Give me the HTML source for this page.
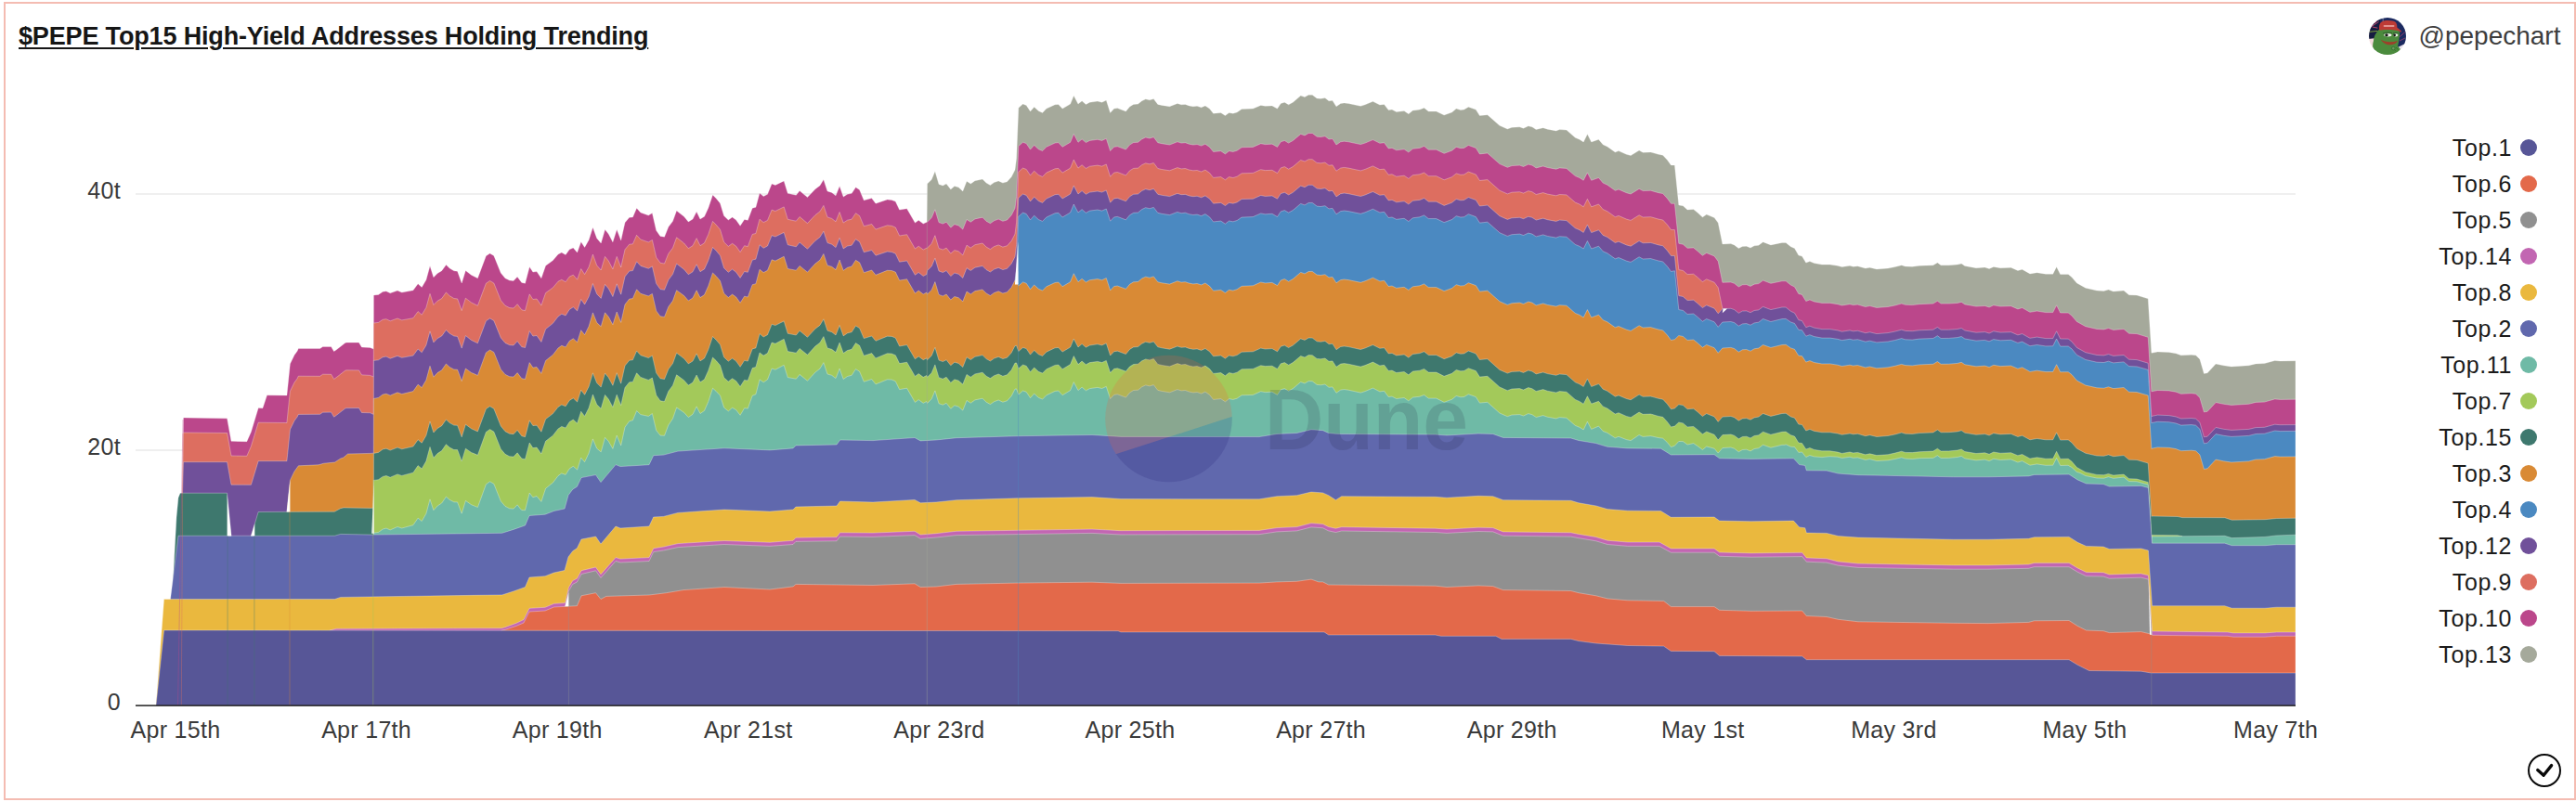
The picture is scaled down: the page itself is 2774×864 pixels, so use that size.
<!DOCTYPE html>
<html lang="en">
<head>
<meta charset="utf-8">
<title>$PEPE Top15 High-Yield Addresses Holding Trending</title>
<style>
html,body{margin:0;padding:0;background:#fff;}
body{width:2774px;height:864px;overflow:hidden;position:relative;font-family:"Liberation Sans",sans-serif;}
#frame{position:absolute;left:4px;top:2px;width:2766px;height:856px;border:2px solid #f4bcb2;box-sizing:content-box;}
#title{position:absolute;left:20px;top:22px;font-size:27px;line-height:34px;font-weight:bold;color:#161616;text-decoration:underline;text-decoration-thickness:2px;text-underline-offset:3px;white-space:nowrap;letter-spacing:-0.16px;}
#owner{position:absolute;left:2604.5px;top:22px;font-size:28px;line-height:34px;color:#3d3d3d;white-space:nowrap;}
#avatar{position:absolute;left:2551px;top:18.8px;width:40px;height:40px;}
svg#chart{position:absolute;left:0;top:0;}
.ax{font-size:25px;letter-spacing:0.3px;fill:#3a3a3a;font-family:"Liberation Sans",sans-serif;}
.lg{font-size:25px;letter-spacing:0.6px;fill:#1b1b1b;font-family:"Liberation Sans",sans-serif;}
</style>
</head>
<body>
<div id="frame"></div>
<svg id="chart" width="2774" height="864" viewBox="0 0 2774 864">
<rect x="146" y="208" width="2326" height="2" fill="#efefef"/>
<rect x="146" y="484" width="2326" height="2" fill="#efefef"/>
<g shape-rendering="geometricPrecision" stroke="#fff" stroke-opacity="0.33" stroke-width="0.9" stroke-linejoin="round">
<path fill="#A5A99B" d="M998.1,760L998.1,239.2L998.5,198L1003.2,193.4L1006.9,184.6L1011,198.4L1015.3,199.9L1019.1,198L1023.8,204L1027.9,200.5L1032.2,201.8L1036.8,205.9L1041,195.2L1045.3,198L1049.9,194.7L1058,193L1062.1,197.1L1066.4,199.5L1070.5,196.6L1075.2,194.9L1079.9,197.1L1084.5,195.8L1089.2,190.6L1093,183.1L1094.6,170.4L1096.8,116.2L1101.5,112.1L1105.2,113.4L1109.5,119.9L1113.7,115.2L1118.3,119.5L1122.6,121.4L1126.8,117.1L1136.1,112.8L1139.8,112.4L1144.1,117.1L1152.6,112.1L1156.3,103.1L1161,112.1L1165.1,108.7L1169.4,112.4L1173.5,110.2L1181.9,109.1L1186.6,110.2L1191.3,108.1L1195.6,121.4L1199.7,117.1L1203.4,116.6L1212.4,119.9L1216.5,114.9L1220.6,112.4L1225.5,112.1L1229.6,108.7L1233.7,106.8L1238,107.8L1242.3,106.5L1246.8,112.4L1251.1,113.4L1259.5,114.7L1267.9,111.5L1272.1,112.8L1276.4,112.4L1280.5,113.9L1284.8,114.7L1289.1,114.3L1293.6,115.8L1297.9,113.9L1302.5,117.1L1306.6,122.2L1314.7,121.4L1319.4,124.6L1323.5,121.4L1327.8,122.2L1332.1,120.9L1337.1,117.5L1349.3,117.1L1357.7,113.4L1362.4,114.3L1369.9,113.9L1375.5,117.1L1379.2,111.5L1383.3,110.2L1387.6,112.8L1392.3,110.2L1400.7,103.1L1405,104.6L1409.1,102.2L1413.2,102.2L1418.1,105.9L1422.2,106.3L1426.9,105.5L1431,108.7L1434.9,108.3L1439,114.7L1443.7,111.5L1447.5,110.9L1452.1,111.5L1465.2,114.3L1470,112.8L1478.4,109.3L1485.9,113L1490.6,112.4L1495.2,118.6L1499,118.1L1503.7,120.5L1512.1,119.5L1516.8,122.7L1521.4,119L1528.9,118.1L1533.6,116.2L1538.3,119.9L1546.7,119.9L1555.1,124L1563.5,120.9L1568.2,117.1L1572.9,118.4L1576.6,118.1L1581.3,115.2L1589.3,118.1L1593.4,124.6L1601.8,123.7L1614.9,135.3L1623.3,139L1628,137.3L1636.4,136.8L1640.5,138.2L1645.8,135.8L1649.9,136.8L1654.2,139.6L1661.7,137.7L1666.4,139.2L1675.7,140.9L1679.4,139.6L1686.9,140.1L1696.3,148.3L1700.9,150.2L1705.2,153L1709.4,144.6L1713.7,153L1721.5,150.2L1726.2,155.8L1730.9,157.9L1739.3,163.9L1743,162.6L1751.4,166.3L1756.1,167.6L1765.1,162L1769.2,164.2L1777.6,163.9L1786,166.3L1790.7,167.2L1795.4,172.3L1799.5,177.9L1803.4,177.9L1807.8,220.9L1812.4,221.8L1817.1,225.9L1823.7,225.5L1828.3,229.3L1833.4,233.9L1837.7,231.1L1846.1,234.5L1850.2,240.1L1854.9,262.9L1863.9,262.6L1867.6,263.9L1872.3,267.6L1876.4,265.4L1880.7,265.2L1885,267L1889.1,264.8L1893.8,264.2L1898.5,260.7L1906.9,263.9L1919,261.4L1923.1,261.4L1928.4,265.7L1932.5,267.6L1936.8,275.1L1940.5,276L1944.8,283.1L1948.9,281.6L1953.6,283.5L1962,285L1970.5,285L1978.9,286.3L1983.5,287.6L1992,286.3L1995.7,287.2L2000.4,286.7L2008.8,289.1L2013.5,288.2L2020.9,290L2033.1,289.1L2040.6,287.6L2047.7,285.7L2051.8,286.9L2059.3,287.2L2066.8,286.3L2081.7,285.7L2086.4,282.9L2090.1,285.7L2098.6,285.7L2107.9,285L2112.2,284L2115.9,286.5L2128,288.7L2137.4,288.1L2142.1,289.6L2146.8,287.4L2154.2,288.7L2165.5,288.3L2172.9,291.5L2177.6,290.2L2186,294.9L2193.5,293.7L2202.9,295.2L2210.7,295.2L2214.6,287.4L2218.7,295.6L2227.2,295.6L2230.9,298.4L2236.5,305L2245.9,310.2L2258,313L2265.5,313.4L2270.5,312.1L2275.8,313.9L2287,313L2292.6,317.7L2301,318.1L2313.2,321.8L2316.9,380.3L2323.5,379L2335.6,379.4L2343.1,380.7L2348.7,382.8L2359.9,382.2L2364.6,382.8L2368.9,386.9L2373.4,402.4L2377.1,401.8L2386.1,392.1L2394.5,393.8L2402.9,394.9L2421.6,393.8L2429.1,391.9L2438.5,391.6L2449.7,388.4L2455.3,388.9L2472,388.7L2472,760Z"/>
<path fill="#BB478B" d="M196.5,760L196.5,531.2L197.5,450L244.6,450.8L249,475.3L265.8,475.7L270.4,465.3L278.2,439.6L282.9,439.7L287.5,425.8L308.9,425.9L312.4,391.9L317,382.5L320.1,378.3L321.3,375.6L344.6,375.6L347.6,373.5L356.6,373.5L359.6,378.6L362,377L371.6,369.5L373,369L386.5,369L389.5,374L398.5,374.4L402.3,376L402.4,318L407.5,317.4L412.2,314.3L415.9,313.7L420.2,315.8L428,313.1L432.7,315L444.9,312.8L450.1,305.7L454.2,309.4L458.9,301.6L463,286.6L466.9,298.7L471.1,294.4L475.7,291.8L480.4,285.3L484.2,289L488.8,291.8L492.6,292.2L497.2,304.9L501.4,291.5L507.5,296.3L514.4,299.7L523.4,275.7L527.5,272.9L531.8,275.4L539.3,294.1L544,299.7L548.7,302.1L553,302.5L557.1,298.2L561.8,304.4L565.5,305.3L570.2,287.5L573.9,293.1L578,292.6L582.9,299.7L587.6,286.2L595.4,280.6L601,273.9L604.8,272L609.1,274.4L613.2,268.8L617.3,267L621.6,272L625.7,260.4L629.6,266.4L634.1,258.5L638.4,244.9L642.7,256.7L647.2,261.9L651.5,247.3L655.3,252L659.9,260.8L664.2,247.3L668.7,258.9L673,239.8L677.7,234.2L681.4,233.9L685.6,224.3L689.9,229L698.3,232L702.4,229.6L706.7,248.3L711,254.4L715.5,255.2L719.8,244.5L724.5,238.3L728.6,227.1L736.6,233.3L741.3,238.9L746,236.1L750.1,228.1L754,236.1L758.5,233.3L762.8,223.9L767.5,209.9L771.2,213.7L775.5,218.9L779.6,232.4L784.3,237L788.6,233.9L792.7,237L797.1,243.3L801.6,236.4L805.3,237.3L810.2,224.2L813.9,223.3L818,208L822.2,211.5L826.5,209.3L831.1,198L834.9,199.4L844.2,194.9L848.3,208.3L857.3,210.2L861.1,205.5L869.5,212.6L877.9,203.7L882.9,199.9L886.9,193.4L891,205.9L895.7,207.4L900,210.8L904.1,200.5L908.2,212.1L912.5,209.3L917.2,208.3L921.5,201.8L925.6,204.6L930.3,215.8L938.7,213.6L943,219.2L955.5,214.9L960.2,215.4L964.3,217.1L968.6,226.1L976.6,224.8L985.4,240.1L989.2,237.3L994.2,241.1L998.1,239.2L998.5,239.2L1003.2,234.6L1006.9,225.8L1011,239.6L1015.3,241.1L1019.1,239.2L1023.8,245.2L1027.9,241.7L1032.2,243L1036.8,247.1L1041,236.4L1045.3,239.2L1049.9,235.9L1058,234.2L1062.1,238.3L1066.4,240.7L1070.5,237.8L1075.2,236.1L1079.9,238.3L1084.5,237L1089.2,231.8L1093,224.3L1094.6,211.6L1096.8,157.4L1101.5,153.3L1105.2,154.6L1109.5,161.1L1113.7,156.4L1118.3,160.7L1122.6,162.6L1126.8,158.3L1136.1,154L1139.8,153.6L1144.1,158.3L1152.6,153.3L1156.3,144.3L1161,153.3L1165.1,149.9L1169.4,153.6L1173.5,151.4L1181.9,150.3L1186.6,151.4L1191.3,149.3L1195.6,162.6L1199.7,158.3L1203.4,157.8L1212.4,161.1L1216.5,156.1L1220.6,153.6L1225.5,153.3L1229.6,149.9L1233.7,148L1238,149L1242.3,147.7L1246.8,153.7L1251.1,154.7L1259.5,156L1267.9,152.8L1272.1,154.1L1276.4,153.7L1280.5,155.2L1284.8,156L1289.1,155.6L1293.6,157.1L1297.9,155.2L1302.5,158.4L1306.6,163.5L1314.7,162.7L1319.4,165.9L1323.5,162.7L1327.8,163.5L1332.1,162.2L1337.1,158.8L1349.3,158.4L1357.7,154.7L1362.4,155.6L1369.9,155.2L1375.5,158.4L1379.2,152.8L1383.3,151.5L1387.6,154.1L1392.3,151.5L1400.7,144.4L1405,145.9L1409.1,143.5L1413.2,143.5L1418.1,147.2L1422.2,147.6L1426.9,146.8L1431,150L1434.9,149.6L1439,156L1443.7,152.8L1447.5,152.2L1452.1,152.8L1465.2,155.6L1470,154.1L1478.4,150.6L1485.9,154.3L1490.6,153.7L1495.2,159.9L1499,159.4L1503.7,161.8L1512.1,160.8L1516.8,164L1521.4,160.3L1528.9,159.4L1533.6,157.5L1538.3,161.2L1546.7,161.2L1555.1,165.3L1563.5,162.2L1568.2,158.4L1572.9,159.7L1576.6,159.4L1581.3,156.5L1589.3,159.4L1593.4,165.9L1601.8,165L1614.9,176.6L1623.3,180.3L1628,178.6L1636.4,178.1L1640.5,179.5L1645.8,177.1L1649.9,178.1L1654.2,180.9L1661.7,179L1666.4,180.5L1675.7,182.2L1679.4,180.9L1686.9,181.4L1696.3,189.6L1700.9,191.5L1705.2,194.3L1709.4,185.9L1713.7,194.3L1721.5,191.5L1726.2,197.1L1730.9,199.2L1739.3,205.3L1743,204L1751.4,207.7L1756.1,209L1765.1,203.4L1769.2,205.6L1777.6,205.3L1786,207.7L1790.7,208.6L1795.4,213.7L1799.5,219.3L1803.4,219.3L1807.8,262.3L1812.4,263.2L1817.1,267.3L1823.7,266.9L1828.3,270.7L1833.4,275.3L1837.7,272.5L1846.1,275.9L1850.2,281.5L1854.9,304.3L1863.9,304L1867.6,305.3L1872.3,309L1876.4,306.8L1880.7,306.6L1885,308.4L1889.1,306.2L1893.8,305.6L1898.5,302.1L1906.9,305.3L1919,302.8L1923.1,302.8L1928.4,307.1L1932.5,309L1936.8,316.5L1940.5,317.4L1944.8,324.5L1948.9,323L1953.6,324.9L1962,326.4L1970.5,326.4L1978.9,327.7L1983.5,329L1992,327.7L1995.7,328.6L2000.4,328.1L2008.8,330.5L2013.5,329.6L2020.9,331.4L2033.1,330.5L2040.6,329L2047.7,327.1L2051.8,328.3L2059.3,328.6L2066.8,327.7L2081.7,327.1L2086.4,324.3L2090.1,327.1L2098.6,327.1L2107.9,326.4L2112.2,325.4L2115.9,327.9L2128,330.1L2137.4,329.5L2142.1,331L2146.8,328.8L2154.2,330.1L2165.5,329.7L2172.9,332.9L2177.6,331.6L2186,336.3L2193.5,335.1L2202.9,336.6L2210.7,336.6L2214.6,328.8L2218.7,337L2227.2,337.1L2230.9,339.9L2236.5,346.5L2245.9,351.7L2258,354.5L2265.5,354.9L2270.5,353.6L2275.8,355.4L2287,354.5L2292.6,359.2L2301,359.6L2313.2,363.3L2316.9,421.8L2323.5,420.5L2335.6,420.9L2343.1,422.2L2348.7,424.3L2359.9,423.7L2364.6,424.3L2368.9,428.4L2373.4,443.9L2377.1,443.3L2386.1,433.6L2394.5,435.3L2402.9,436.4L2421.6,435.3L2429.1,433.4L2438.5,433.1L2449.7,429.9L2455.3,430.4L2472,430.2L2472,760Z"/>
<path fill="#DD6E60" d="M196.5,760L196.5,531.2L197.5,466L244.6,466.5L249,491L265.8,491.3L270.4,480.8L278.2,455.2L308.9,455.5L312.4,421.5L317,412.1L320.1,407.9L321.3,405.2L344.6,405.3L347.6,403.2L356.6,403.3L359.6,408.4L362,406.8L371.6,399.3L373,398.8L386.5,398.9L389.5,403.9L398.5,404.4L402.3,406L402.4,348L407.5,347.4L412.2,344.3L415.9,343.7L420.2,345.8L428,343L432.7,344.9L444.9,342.7L450.1,335.6L454.2,339.2L458.9,331.4L463,316.4L466.9,328.5L471.1,324.2L475.7,321.6L480.4,315L484.2,318.7L488.8,321.5L492.6,321.9L497.2,334.6L501.4,321.2L507.5,325.9L514.4,329.3L523.4,305.3L527.5,302.5L531.8,305L539.3,323.6L544,329.2L548.7,331.6L553,332L557.1,327.7L561.8,333.8L565.5,334.7L570.2,316.9L573.9,322.5L578,322L582.9,329.1L587.6,315.6L595.4,309.9L601,303.2L604.8,301.3L609.1,303.7L613.2,298.1L617.3,296.2L621.6,301.2L625.7,289.6L629.6,295.6L634.1,287.7L638.4,274.1L642.7,285.9L647.2,291L651.5,276.4L655.3,281.1L659.9,289.9L664.2,276.4L668.7,288L673,268.8L677.7,263.2L681.4,262.9L685.6,253.3L689.9,258L698.3,260.9L702.4,258.5L706.7,277.2L711,283.2L715.5,284L719.8,273.3L724.5,267.1L728.6,255.8L736.6,262L741.3,267.6L746,264.7L750.1,256.7L754,264.7L758.5,261.8L762.8,252.4L767.5,238.4L771.2,242.2L775.5,247.3L779.6,260.8L784.3,265.4L788.6,262.3L792.7,265.3L797.1,271.6L801.6,264.7L805.3,265.6L810.2,252.4L813.9,251.5L818,236.2L822.2,239.6L826.5,237.4L831.1,226.1L834.9,227.5L844.2,222.9L848.3,236.3L857.3,238.2L861.1,233.5L869.5,240.6L877.9,231.7L882.9,227.9L886.9,221.4L891,233.9L895.7,235.4L900,238.8L904.1,228.5L908.2,240L912.5,237.2L917.2,236.2L921.5,229.7L925.6,232.5L930.3,243.7L938.7,241.5L943,247.1L955.5,242.8L960.2,243.3L964.3,245L968.6,254L976.6,252.7L985.4,268L989.2,265.2L994.2,269L998.1,267.1L998.5,267.1L1003.2,262.5L1006.9,253.7L1011,267.5L1015.3,269L1019.1,267.1L1023.8,273.1L1027.9,269.6L1032.2,270.8L1036.8,274.9L1041,264.2L1045.3,267L1049.9,263.7L1058,262L1062.1,266.1L1066.4,268.5L1070.5,265.6L1075.2,263.9L1079.9,266.1L1084.5,264.8L1089.2,259.6L1093,252.1L1094.6,239.4L1096.8,185.2L1101.5,181.1L1105.2,182.4L1109.5,188.9L1113.7,184.2L1118.3,188.5L1122.6,190.4L1126.8,186.1L1136.1,181.8L1139.8,181.4L1144.1,186.1L1152.6,181.1L1156.3,172.1L1161,181.1L1165.1,177.7L1169.4,181.4L1173.5,179.2L1181.9,178.1L1186.6,179.1L1191.3,177L1195.6,190.3L1199.7,186L1203.4,185.5L1212.4,188.9L1216.5,183.9L1220.6,181.4L1225.5,181.1L1229.6,177.7L1233.7,175.8L1238,176.8L1242.3,175.5L1246.8,181.5L1251.1,182.5L1259.5,183.8L1267.9,180.6L1272.1,181.9L1276.4,181.5L1280.5,183L1284.8,183.8L1289.1,183.5L1293.6,185L1297.9,183.1L1302.5,186.3L1306.6,191.4L1314.7,190.6L1319.4,193.8L1323.5,190.6L1327.8,191.5L1332.1,190.2L1337.1,186.8L1349.3,186.4L1357.7,182.7L1362.4,183.6L1369.9,183.3L1375.5,186.5L1379.2,180.9L1383.3,179.6L1387.6,182.2L1392.3,179.6L1400.7,172.5L1405,174L1409.1,171.7L1413.2,171.7L1418.1,175.4L1422.2,175.8L1426.9,175L1431,178.2L1434.9,177.8L1439,184.2L1443.7,181L1447.5,180.4L1452.1,181.1L1465.2,183.9L1470,182.4L1478.4,178.9L1485.9,182.6L1490.6,182.1L1495.2,188.3L1499,187.8L1503.7,190.2L1512.1,189.2L1516.8,192.4L1521.4,188.7L1528.9,187.8L1533.6,186L1538.3,189.7L1546.7,189.7L1555.1,193.8L1563.5,190.7L1568.2,186.9L1572.9,188.3L1576.6,188L1581.3,185.1L1589.3,188L1593.4,194.5L1601.8,193.6L1614.9,205.2L1623.3,208.9L1628,207.2L1636.4,206.7L1640.5,208.1L1645.8,205.7L1649.9,206.7L1654.2,209.5L1661.7,207.6L1666.4,209.1L1675.7,210.8L1679.4,209.5L1686.9,209.9L1696.3,218.1L1700.9,220L1705.2,222.8L1709.4,214.4L1713.7,222.8L1721.5,220L1726.2,225.6L1730.9,227.7L1739.3,233.7L1743,232.4L1751.4,236.1L1756.1,237.4L1765.1,231.8L1769.2,234L1777.6,233.7L1786,236.1L1790.7,237L1795.4,242.1L1799.5,247.6L1803.4,247.6L1807.8,290.6L1812.4,291.5L1817.1,295.6L1823.7,295.2L1828.3,299L1833.4,303.6L1837.7,300.8L1846.1,304.2L1850.2,309.8L1854.9,332.6L1854.9,760Z"/>
<path fill="#70509A" d="M196.5,760L196.5,531.2L197.5,497.7L244.6,497.7L249,522.2L270.4,522.3L278.2,496.7L308.9,496.7L312.4,462.7L317,453.3L320.1,449.1L321.3,446.4L344.6,446.3L347.6,444.2L356.6,444.1L359.6,449.2L362,447.6L371.6,440.1L373,439.6L386.5,439.5L389.5,444.5L398.5,444.8L402.3,446.4L402.4,388.4L407.5,387.8L412.2,384.7L415.9,384.1L420.2,386.2L428,383.4L432.7,385.3L444.9,383.1L450.1,376L454.2,379.7L458.9,371.9L463,356.9L466.9,368.9L471.1,364.6L475.7,362L480.4,355.5L484.2,359.2L488.8,362L492.6,362.4L497.2,375.1L501.4,361.6L507.5,366.4L514.4,369.8L523.4,345.8L527.5,343L531.8,345.4L539.3,363.9L544,369.4L548.7,371.7L553,372L557.1,367.6L561.8,373.7L565.5,374.5L570.2,356.6L573.9,362.1L578,361.5L582.9,368.4L587.6,354.5L595.4,348.3L601,341L604.8,338.3L609.1,339.9L613.2,333.4L617.3,330.8L621.6,334.9L625.7,322.5L629.6,328L634.1,319.6L638.4,305.5L642.7,316.7L647.2,321.4L651.5,306.4L655.3,310.9L659.9,319.5L664.2,305.8L668.7,317.2L673,297.9L677.7,292L681.4,291.6L685.6,281.8L689.9,286.4L698.3,289.3L702.4,286.9L706.7,305.5L711,311.6L715.5,312.3L719.8,301.6L724.5,295.3L728.6,284.1L736.6,290.2L741.3,295.7L746,292.8L750.1,284.8L754,292.7L758.5,289.9L762.8,280.4L767.5,266.4L771.2,270.1L775.5,275.3L779.6,288.7L784.3,293.3L788.6,290.1L792.7,293.2L797.1,299.4L801.6,292.5L805.3,293.3L810.2,280.1L813.9,279.2L818,263.8L822.2,267.3L826.5,265L831.1,253.7L834.9,255L844.2,250.4L848.3,263.8L857.3,265.8L861.1,261.1L869.5,268.2L877.9,259.4L882.9,255.6L886.9,249.1L891,261.6L895.7,263.2L900,266.6L904.1,256.3L908.2,267.9L912.5,265.1L917.2,264.2L921.5,257.7L925.6,260.5L930.3,271.7L938.7,269.6L943,275.2L955.5,271L960.2,271.5L964.3,273.2L968.6,282.2L976.6,281L985.4,296.3L989.2,293.5L994.2,297.4L997.9,295.6L998.5,291.6L1003.2,287L1006.9,278.2L1011,292L1015.3,293.5L1019.1,291.6L1023.8,297.6L1027.9,294.1L1032.2,295.3L1036.8,299.4L1041,288.7L1045.3,291.5L1049.9,288.2L1058,286.5L1062.1,290.6L1066.4,293L1070.5,290.1L1075.2,288.4L1079.9,290.6L1084.5,289.3L1089.2,284.1L1093,276.6L1094.6,263.9L1096.8,213.2L1101.5,209.1L1105.2,210.4L1109.5,216.9L1113.7,212.2L1118.3,216.5L1122.6,218.4L1126.8,214.1L1136.1,209.7L1139.8,209.3L1144.1,214L1152.6,209L1156.3,200L1161,209L1165.1,205.6L1169.4,209.3L1173.5,207.1L1181.9,206L1186.6,207.1L1191.3,205L1195.6,218.2L1199.7,213.9L1203.4,213.4L1212.4,216.8L1216.5,211.8L1220.6,209.3L1225.5,209L1229.6,205.6L1233.7,203.7L1238,204.7L1242.3,203.4L1246.8,209.3L1251.1,210.3L1259.5,211.6L1267.9,208.4L1272.1,209.7L1276.4,209.4L1280.5,210.9L1284.8,211.7L1289.1,211.3L1293.6,212.8L1297.9,210.9L1302.5,214.1L1306.6,219.2L1314.7,218.4L1319.4,221.6L1323.5,218.4L1327.8,219.2L1332.1,217.9L1337.1,214.5L1349.3,214.2L1357.7,210.5L1362.4,211.4L1369.9,211L1375.5,214.2L1379.2,208.6L1383.3,207.3L1387.6,209.9L1392.3,207.3L1400.7,200.2L1405,201.7L1409.1,199.3L1413.2,199.3L1418.1,203.1L1422.2,203.5L1426.9,202.7L1431,205.9L1434.9,205.5L1439,211.9L1443.7,208.7L1447.5,208.1L1452.1,208.7L1465.2,211.5L1470,210L1478.4,206.5L1485.9,210.3L1490.6,209.7L1495.2,215.9L1499,215.4L1503.7,217.8L1512.1,216.8L1516.8,220L1521.4,216.3L1528.9,215.4L1533.6,213.5L1538.3,217.2L1546.7,217.2L1555.1,221.4L1563.5,218.3L1568.2,214.5L1572.9,215.8L1576.6,215.5L1581.3,212.6L1589.3,215.5L1593.4,222L1601.8,221.1L1614.9,232.7L1623.3,236.4L1628,234.8L1636.4,234.3L1640.5,235.7L1645.8,233.3L1649.9,234.3L1654.2,237.1L1661.7,235.2L1666.4,236.7L1675.7,238.4L1679.4,237.1L1686.9,237.6L1696.3,245.8L1700.9,247.7L1705.2,250.5L1709.4,242.1L1713.7,250.6L1721.5,247.8L1726.2,253.4L1730.9,255.5L1739.3,261.5L1743,260.2L1751.4,263.9L1756.1,265.2L1765.1,259.6L1769.2,261.8L1777.6,261.5L1786,263.9L1790.7,264.8L1795.4,269.9L1799.5,275.5L1803.4,275.6L1807.8,318.6L1812.4,319.5L1817.1,323.6L1823.7,323.2L1828.3,327L1833.4,331.6L1837.7,328.8L1846.1,332.2L1850.2,337.8L1854.9,332.6L1863.9,332.3L1867.6,333.6L1872.3,337.3L1876.4,335.1L1880.7,334.9L1885,336.7L1889.1,334.5L1893.8,333.9L1898.5,330.4L1906.9,333.6L1919,331L1923.1,331L1928.4,335.3L1932.5,337.2L1936.8,344.7L1940.5,345.6L1944.8,352.7L1948.9,351.2L1953.6,353.1L1962,354.6L1970.5,354.6L1978.9,355.9L1983.5,357.2L1992,355.9L1995.7,356.8L2000.4,356.3L2008.8,358.7L2013.5,357.8L2020.9,359.6L2033.1,358.6L2040.6,357.1L2047.7,355.2L2051.8,356.4L2059.3,356.7L2066.8,355.8L2081.7,355.2L2086.4,352.4L2090.1,355.2L2098.6,355.2L2107.9,354.5L2112.2,353.5L2115.9,356L2128,358.2L2137.4,357.6L2142.1,359L2146.8,356.8L2154.2,358.1L2165.5,357.7L2172.9,360.9L2177.6,359.6L2186,364.3L2193.5,363.1L2202.9,364.6L2210.7,364.6L2214.6,356.8L2218.7,365L2227.2,365.1L2230.9,367.9L2236.5,374.5L2245.9,379.7L2258,382.5L2265.5,382.9L2270.5,381.6L2275.8,383.4L2287,382.5L2292.6,387.2L2301,387.6L2313.2,391.2L2316.9,448.7L2318,448.2L2323.5,447.1L2335.6,447.6L2343.1,448.9L2348.7,451L2359.9,450.5L2364.6,451.1L2368.9,455.2L2373.4,470.8L2377.1,470.2L2386.1,460.5L2394.5,462.3L2402.9,463.4L2421.6,462.4L2429.1,460.6L2438.5,460.3L2449.7,457.2L2455.3,457.7L2472,457.6L2472,760Z"/>
<path fill="#4B89C1" d="M1093,760L1093,302L1094.6,289.3L1096.8,233.2L1101.5,229.1L1105.2,230.4L1109.5,236.9L1113.7,232.2L1118.3,236.5L1122.6,238.4L1126.8,234.1L1136.1,229.7L1139.8,229.3L1144.1,234L1152.6,229L1156.3,220L1161,229L1165.1,225.6L1169.4,229.3L1173.5,227.1L1181.9,226L1186.6,227.1L1191.3,225L1195.6,238.2L1199.7,233.9L1203.4,233.4L1212.4,236.8L1216.5,231.8L1220.6,229.3L1225.5,229L1229.6,225.6L1233.7,223.7L1238,224.7L1242.3,223.4L1246.8,229.3L1251.1,230.3L1259.5,231.6L1267.9,228.4L1272.1,229.7L1276.4,229.2L1280.5,230.7L1284.8,231.5L1289.1,231.1L1293.6,232.6L1297.9,230.6L1302.5,233.8L1306.6,238.9L1314.7,238.1L1319.4,241.2L1323.5,238L1327.8,238.8L1332.1,237.5L1337.1,234.1L1349.3,233.6L1357.7,229.9L1362.4,230.8L1369.9,230.3L1375.5,233.5L1379.2,227.9L1383.3,226.6L1387.6,229.1L1392.3,226.5L1400.7,219.4L1405,220.9L1409.1,218.5L1413.2,218.4L1418.1,222.1L1422.2,222.5L1426.9,221.7L1431,224.9L1434.9,224.4L1439,230.8L1443.7,227.6L1447.5,227L1452.1,227.6L1465.2,230.3L1470,228.8L1478.4,225.2L1485.9,228.9L1490.6,228.3L1495.2,234.5L1499,234L1503.7,236.3L1512.1,235.3L1516.8,238.5L1521.4,234.8L1528.9,233.8L1533.6,231.9L1538.3,235.6L1546.7,235.6L1555.1,239.6L1563.5,236.5L1568.2,232.7L1572.9,234L1576.6,233.7L1581.3,230.7L1589.3,233.6L1593.4,240.1L1601.8,239.2L1614.9,250.7L1623.3,254.4L1628,252.7L1636.4,252.1L1640.5,253.5L1645.8,251.1L1649.9,252.1L1654.2,254.9L1661.7,252.9L1666.4,254.4L1675.7,256.1L1679.4,254.7L1686.9,255.2L1696.3,263.4L1700.9,265.3L1705.2,268L1709.4,259.6L1713.7,268L1721.5,265.2L1726.2,270.8L1730.9,272.8L1739.3,278.8L1743,277.5L1751.4,281.1L1756.1,282.4L1765.1,276.8L1769.2,279L1777.6,278.6L1786,281L1790.7,281.9L1795.4,287L1799.5,292.5L1803.4,291.7L1807.8,333.6L1812.4,334.4L1817.1,338.5L1823.7,338L1828.3,341.7L1833.4,346.3L1837.7,343.5L1846.1,346.8L1850.2,352.3L1854.9,347L1863.9,346.5L1867.6,347.6L1872.3,351.2L1876.4,348.9L1880.7,348.6L1885,350.2L1889.1,347.9L1893.8,347.2L1898.5,343.5L1906.9,346.5L1919,343.6L1923.1,343.4L1928.4,347L1932.5,348.4L1936.8,355.3L1940.5,355.7L1944.8,362.2L1948.9,360.7L1953.6,362.6L1962,364.1L1970.5,364.1L1978.9,365.3L1983.5,366.6L1992,365.3L1995.7,366.2L2000.4,365.7L2008.8,368.1L2013.5,367.2L2020.9,368.9L2033.1,368L2040.6,366.5L2047.7,364.6L2051.8,365.8L2059.3,366.1L2066.8,365.1L2081.7,364.5L2086.4,361.7L2090.1,364.5L2098.6,364.4L2107.9,363.6L2112.2,362.5L2115.9,365L2128,367.1L2137.4,366.4L2142.1,367.8L2146.8,365.6L2154.2,366.8L2165.5,366.3L2172.9,369.4L2177.6,368.1L2186,372.7L2193.5,371.5L2202.9,372.9L2210.7,372.8L2214.6,365L2218.7,373.1L2227.2,373L2230.9,375.8L2236.5,382.4L2245.9,387.5L2258,390.2L2265.5,390.5L2270.5,389.2L2275.8,390.9L2287,389.9L2292.6,394.6L2301,394.9L2313.2,398.4L2316.9,455.9L2318,455.3L2323.5,454.3L2335.6,454.7L2343.1,456L2348.7,458.1L2359.9,457.6L2364.6,458.2L2368.9,462.3L2373.4,477.8L2377.1,477.2L2386.1,467.6L2394.5,469.3L2402.9,470.4L2421.6,469.4L2429.1,467.5L2438.5,467.2L2449.7,464L2455.3,464.6L2472,464.4L2472,760Z"/>
<path fill="#D98A35" d="M308.9,760L308.9,551.4L312.4,517.4L317,507.9L321.4,501.8L343,500.8L348.7,499.2L360,498.1L360.5,498L366.7,494L369.8,493L374.5,489L399,488.4L402.3,488.2L402.4,429.4L407.5,428.4L412.2,425L415.9,424.2L420.2,426L428,422.8L432.7,424.5L444.9,421.6L450.1,414.2L454.2,417.6L458.9,409.5L463,394.3L466.9,406.2L471.1,401.6L475.7,398.8L480.4,392L484.2,395.5L488.8,398L492.6,398.2L497.2,410.6L501.4,397L507.5,401.4L514.4,404.4L523.4,379.9L527.5,377L531.8,379.4L539.3,397.9L544,403.4L548.7,405.7L553,406L557.1,401.6L561.8,407.7L565.5,408.5L570.2,390.6L573.9,396.1L578,395.5L582.9,402.4L587.6,388.5L595.4,382.3L601,375L604.8,372.3L609.1,373.9L613.2,367.4L617.3,364.8L621.6,368.7L625.7,355.7L629.6,360.7L634.1,351.6L638.4,336.9L642.7,347.6L647.2,351.8L651.5,336.8L655.3,341.3L659.9,349.8L664.2,336L668.7,347.4L673,328L677.7,322.1L681.4,321.6L685.6,311.8L689.9,316.3L698.3,318.9L702.4,316.4L706.7,334.9L711,340.8L715.5,341.4L719.8,330.5L724.5,324.1L728.6,312.7L736.6,318.6L741.3,324L746,321L750.1,312.8L754,320.6L758.5,317.6L762.8,308.1L767.5,293.9L771.2,297.5L775.5,302.6L779.6,316L784.3,320.4L788.6,317.1L792.7,320.1L797.1,326.3L801.6,319.2L805.3,320L810.2,306.7L813.9,305.7L818,290.3L822.2,293.6L826.5,291.3L831.1,279.8L834.9,281.1L844.2,276.3L848.3,289.5L857.3,291.2L861.1,286.4L869.5,293.2L877.9,284.1L882.9,280.2L886.9,273.5L891,285.9L895.7,287.3L900,290.6L904.1,280L908.2,291.4L912.5,288.3L917.2,287L921.5,280.3L925.6,282.8L930.3,293.7L938.7,291L943,296.3L955.5,291.3L960.2,291.5L964.3,293.1L968.6,302.1L976.6,300.7L985.4,316L989.2,313.1L994.2,316.9L997.9,315.1L998.5,317L1003.2,312.4L1006.9,303.6L1011,317.4L1015.3,318.9L1019.1,317L1023.8,323L1027.9,319.5L1032.2,320.7L1036.8,324.8L1041,314.1L1045.3,316.9L1049.9,313.6L1058,311.9L1062.1,316L1066.4,318.4L1070.5,315.5L1075.2,313.8L1079.9,316L1084.5,314.7L1089.2,309.5L1093,302L1094.6,301.8L1096.8,308L1101.5,303.9L1105.2,305.2L1109.5,311.7L1113.7,306.9L1118.3,311.2L1122.6,313.1L1126.8,308.8L1136.1,304.5L1139.8,304.1L1144.1,308.7L1152.6,303.7L1156.3,294.7L1161,303.7L1165.1,300.3L1169.4,304L1173.5,301.7L1181.9,300.6L1186.6,301.7L1191.3,299.6L1195.6,312.9L1199.7,308.5L1203.4,308L1212.4,311.3L1216.5,306.3L1220.6,303.8L1225.5,303.5L1229.6,300.1L1233.7,298.2L1238,299.2L1242.3,297.9L1246.8,303.8L1251.1,304.8L1259.5,306.1L1267.9,302.8L1272.1,304.1L1276.4,303.7L1280.5,305.1L1284.8,305.9L1289.1,305.5L1293.6,306.9L1297.9,305L1302.5,308.2L1306.6,313.2L1314.7,312.4L1319.4,315.5L1323.5,312.3L1327.8,313.1L1332.1,311.7L1337.1,308.3L1349.3,307.8L1357.7,304L1362.4,304.9L1369.9,304.4L1375.5,307.6L1379.2,302L1383.3,300.6L1387.6,303.2L1392.3,300.6L1400.7,293.4L1405,294.9L1409.1,292.5L1413.2,292.4L1418.1,296.1L1422.2,296.5L1426.9,295.7L1431,298.9L1434.9,298.4L1439,304.8L1443.7,301.6L1447.5,301L1452.1,301.6L1465.2,304.3L1470,302.8L1478.4,299.2L1485.9,302.9L1490.6,302.3L1495.2,308.5L1499,308L1503.7,310.3L1512.1,309.3L1516.8,312.5L1521.4,308.8L1528.9,307.8L1533.6,305.9L1538.3,309.6L1546.7,309.6L1555.1,313.6L1563.5,310.5L1568.2,306.7L1572.9,308L1576.6,307.7L1581.3,304.7L1589.3,307.6L1593.4,314.1L1601.8,313.2L1614.9,324.7L1623.3,328.4L1628,326.7L1636.4,326.1L1640.5,327.5L1645.8,325.1L1649.9,326.1L1654.2,328.9L1661.7,326.9L1666.4,328.4L1675.7,330.1L1679.4,328.7L1686.9,329.2L1696.3,337.4L1700.9,339.3L1705.2,342L1709.4,333.6L1713.7,342L1721.5,339.2L1726.2,344.8L1730.9,346.8L1739.3,352.8L1743,351.5L1751.4,355.1L1756.1,356.4L1765.1,350.8L1769.2,353L1777.6,352.6L1786,355L1790.7,355.9L1795.4,361L1799.5,366.5L1803.4,365.7L1807.8,361.6L1812.4,362.4L1817.1,366.5L1823.7,366L1828.3,369.7L1833.4,374.3L1837.7,371.4L1846.1,374.7L1850.2,380.3L1854.9,375L1863.9,374.4L1867.6,375.6L1872.3,379.2L1876.4,376.8L1880.7,376.5L1885,378.2L1889.1,375.8L1893.8,375.1L1898.5,371.5L1906.9,374.4L1919,371.5L1923.1,371.3L1928.4,374.9L1932.5,376.3L1936.8,383.2L1940.5,383.6L1944.8,390.1L1948.9,388.6L1953.6,390.5L1962,392L1970.5,391.9L1978.9,393.2L1983.5,394.5L1992,393.2L1995.7,394.1L2000.4,393.5L2008.8,395.9L2013.5,395L2020.9,396.8L2033.1,395.8L2040.6,394.3L2047.7,392.4L2051.8,393.6L2059.3,393.9L2066.8,392.9L2081.7,392.3L2086.4,389.5L2090.1,392.3L2098.6,392.2L2107.9,391.4L2112.2,390.3L2115.9,392.8L2128,394.8L2137.4,394.1L2142.1,395.6L2146.8,393.3L2154.2,394.6L2165.5,394L2172.9,397.2L2177.6,395.8L2186,400.4L2193.5,399.2L2202.9,400.6L2210.7,400.5L2214.6,392.7L2218.7,400.8L2227.2,400.7L2230.9,403.5L2236.5,410L2245.9,415.1L2258,417.8L2265.5,418.2L2270.5,416.8L2275.8,418.6L2287,417.5L2292.6,422.2L2301,422.5L2313.2,426L2316.9,483.5L2318,483L2323.5,481.9L2335.6,482.3L2343.1,483.6L2348.7,485.7L2359.9,485.2L2364.6,485.8L2368.9,489.9L2373.4,505.4L2377.1,504.8L2386.1,495.1L2394.5,496.8L2402.9,498L2421.6,496.9L2429.1,495L2438.5,494.7L2449.7,491.6L2455.3,492.1L2472,491.9L2472,760Z"/>
<path fill="#3E786E" d="M186.6,760L186.6,620.6L190,557.3L192,536.2L194,531.2L244.6,531.2L249,577.2L249,760ZM270.4,760L270.4,577.2L278.2,551.5L360,551.2L360.5,551.1L366.7,547.7L370,546.9L399,547.4L402.3,547.2L402.4,488.4L407.5,487.4L412.2,484L415.9,483.2L420.2,485.1L428,482.1L432.7,483.8L444.9,481L450.1,473.7L454.2,477.2L458.9,469.2L463,454L466.9,466L471.1,461.5L475.7,458.7L480.4,452L484.2,455.5L488.8,458.1L492.6,458.3L497.2,470.8L501.4,457.2L507.5,461.8L514.4,464.9L523.4,440.5L527.5,437.7L531.8,440.2L539.3,459L544,464.7L548.7,467.2L553,467.7L557.1,463.4L561.8,469.7L565.5,470.7L570.2,452.9L573.9,458.6L578,458.2L582.9,465.2L587.6,451.5L595.4,445.6L601,438.5L604.8,436L609.1,437.7L613.2,431.4L617.3,428.9L621.6,433L625.7,420.2L629.6,425.3L634.1,416.4L638.4,401.8L642.7,412.6L647.2,417.1L651.5,402.1L655.3,406.7L659.9,415.3L664.2,401.7L668.7,413.2L673,393.9L677.7,388.2L681.4,387.8L685.6,378.1L689.9,382.7L698.3,385.6L702.4,383.1L706.7,401.8L711,407.8L715.5,408.5L719.8,397.8L724.5,391.5L728.6,380.2L736.6,386.3L741.3,391.9L746,389L750.1,380.9L754,388.9L758.5,386L762.8,376.5L767.5,362.5L771.2,366.2L775.5,371.3L779.6,384.7L784.3,389.2L788.6,386L792.7,389.1L797.1,395.3L801.6,388.3L805.3,389.1L810.2,375.9L813.9,374.9L818,359.6L822.2,363L826.5,360.7L831.1,349.3L834.9,350.6L844.2,345.9L848.3,359.3L857.3,361L861.1,356.3L869.5,363.3L877.9,354.2L882.9,350.4L886.9,343.8L891,356.2L895.7,357.7L900,361L904.1,350.5L908.2,361.9L912.5,358.9L917.2,357.7L921.5,351L925.6,353.6L930.3,364.6L938.7,362L943,367.3L955.5,362.2L960.2,362.4L964.3,364.1L968.6,373L976.6,371.6L985.4,386.8L989.2,384L994.2,387.7L997.9,385.9L998.5,387.8L1003.2,383.2L1006.9,374.3L1011,388.1L1015.3,389.6L1019.1,387.7L1023.8,393.7L1027.9,390.2L1032.2,391.5L1036.8,395.5L1041,384.8L1045.3,387.6L1049.9,384.3L1058,382.6L1062.1,386.6L1066.4,389L1070.5,386.1L1075.2,384.4L1079.9,386.6L1084.5,385.2L1089.2,380L1093,372.5L1094.6,372.3L1096.8,378.5L1101.5,374.4L1105.2,375.6L1109.5,382.1L1113.7,377.4L1118.3,381.7L1122.6,383.5L1126.8,379.2L1136.1,374.8L1139.8,374.4L1144.1,379.1L1152.6,374L1156.3,365L1161,374L1165.1,370.5L1169.4,374.2L1173.5,372L1181.9,370.8L1186.6,371.9L1191.3,369.8L1195.6,383L1199.7,378.7L1203.4,378.2L1212.4,381.5L1216.5,376.4L1220.6,373.9L1225.5,373.6L1229.6,370.2L1233.7,368.3L1238,369.3L1242.3,368L1246.8,373.8L1251.1,374.8L1259.5,376.2L1267.9,373L1272.1,374.3L1276.4,373.9L1280.5,375.4L1284.8,376.3L1289.1,375.9L1293.6,377.4L1297.9,375.5L1302.5,378.7L1306.6,383.8L1314.7,383L1319.4,386.2L1323.5,383L1327.8,383.8L1332.1,382.6L1337.1,379.2L1349.3,378.8L1357.7,375.1L1362.4,376L1369.9,375.6L1375.5,378.8L1379.2,373.2L1383.3,372L1387.6,374.6L1392.3,372L1400.7,364.9L1405,366.4L1409.1,364L1413.2,364.1L1418.1,367.8L1422.2,368.2L1426.9,367.4L1431,370.7L1434.9,370.3L1439,376.7L1443.7,373.5L1447.5,373L1452.1,373.6L1465.2,376.5L1470,375L1478.4,371.5L1485.9,375.3L1490.6,374.7L1495.2,380.9L1499,380.5L1503.7,382.9L1512.1,381.9L1516.8,385.2L1521.4,381.5L1528.9,380.6L1533.6,378.8L1538.3,382.5L1546.7,382.5L1555.1,386.7L1563.5,383.7L1568.2,379.9L1572.9,381.2L1576.6,380.9L1581.3,378.1L1589.3,381L1593.4,387.5L1601.8,386.7L1614.9,398.4L1623.3,402.1L1628,400.4L1636.4,400L1640.5,401.4L1645.8,399L1649.9,400.1L1654.2,402.9L1661.7,401L1666.4,402.6L1675.7,404.3L1679.4,403L1686.9,403.6L1696.3,411.8L1700.9,413.8L1705.2,416.5L1709.4,408.1L1713.7,416.5L1721.5,413.6L1726.2,419.2L1730.9,421.3L1739.3,427.2L1743,425.9L1751.4,429.5L1756.1,430.8L1765.1,425.1L1769.2,427.3L1777.6,427L1786,429.3L1790.7,430.2L1795.4,435.2L1799.5,440.8L1803.4,439.9L1807.8,435.8L1812.4,436.6L1817.1,440.7L1823.7,440.2L1828.3,443.9L1833.4,448.5L1837.7,445.6L1846.1,448.9L1850.2,454.4L1854.9,449.1L1863.9,448.5L1867.6,449.7L1872.3,453.2L1876.4,450.9L1880.7,450.6L1885,452.2L1889.1,449.9L1893.8,449.1L1898.5,445.5L1906.9,448.4L1919,445.5L1923.1,445.3L1928.4,448.9L1932.5,450.2L1936.8,457.1L1940.5,457.5L1944.8,464L1948.9,462.5L1953.6,464.4L1962,465.8L1970.5,465.8L1978.9,467L1983.5,468.3L1992,467L1995.7,467.8L2000.4,467.3L2008.8,469.7L2013.5,468.7L2020.9,470.5L2033.1,469.5L2040.6,468L2047.7,466.1L2051.8,467.2L2059.3,467.5L2066.8,466.6L2081.7,465.9L2086.4,463L2090.1,465.8L2098.6,465.7L2107.9,464.9L2112.2,463.8L2115.9,466.3L2128,468.3L2137.4,467.6L2142.1,469L2146.8,466.7L2154.2,467.9L2165.5,467.4L2172.9,470.5L2177.6,469.2L2186,473.8L2193.5,472.5L2202.9,473.8L2210.7,473.8L2214.6,465.9L2218.7,474.1L2227.2,473.9L2230.9,476.7L2236.5,483.2L2245.9,488.3L2258,491L2265.5,491.3L2270.5,489.9L2275.8,491.7L2287,490.6L2292.6,495.2L2301,495.5L2313.2,499L2316.9,556.5L2317.5,556L2345,556.5L2350,557.6L2395.7,557.7L2403.4,560.2L2439,559.7L2451.6,558.5L2472,558.2L2472,760Z"/>
<path fill="#A3C95A" d="M402.3,760L402.3,576.1L402.4,517.4L407.5,516.7L412.2,513.4L415.9,512.5L420.2,514.2L428,510.9L432.7,512.4L444.9,509.2L450.1,501.6L454.2,505L458.9,496.8L463,481.5L466.9,493.2L471.1,488.6L475.7,485.6L480.4,478.7L484.2,482.1L488.8,484.5L492.6,484.6L497.2,496.9L501.4,483.2L507.5,487.4L514.4,490.3L523.4,465.5L527.5,462.6L531.8,465.1L539.3,483.8L544,489.3L548.7,491.7L553,492.1L557.1,487.8L561.8,494L565.5,494.8L570.2,477L573.9,482.6L578,482.1L582.9,489L587.6,475.2L595.4,469.2L601,462L604.8,459.4L609.1,461L613.2,454.6L617.3,452.1L621.6,456.1L625.7,443.2L629.6,448.4L634.1,439.5L638.4,425L642.7,435.8L647.2,440.3L651.5,425.4L655.3,430L659.9,438.7L664.2,425.2L668.7,436.7L673,417.5L677.7,411.8L681.4,411.4L685.6,401.8L689.9,406.4L698.3,409.4L702.4,407L706.7,425.7L711,431.8L715.5,432.5L719.8,421.6L724.5,415.2L728.6,403.8L736.6,409.7L741.3,415.1L746,412.1L750.1,404L754,411.8L758.5,408.8L762.8,399.2L767.5,385L771.2,388.6L775.5,393.6L779.6,406.8L784.3,411.1L788.6,407.7L792.7,410.5L797.1,416.5L801.6,409.4L805.3,410L810.2,396.6L813.9,395.4L818,379.9L822.2,383.1L826.5,380.6L831.1,369L834.9,370.2L844.2,365.3L848.3,378.6L857.3,380.2L861.1,375.4L869.5,382.3L877.9,373.1L882.9,369.2L886.9,362.6L891,375L895.7,376.3L900,379.6L904.1,369.1L908.2,380.5L912.5,377.5L917.2,376.3L921.5,369.6L925.6,372.2L930.3,383.2L938.7,380.6L943,385.9L955.5,380.8L960.2,381L964.3,382.7L968.6,391.6L976.6,390.2L985.4,405.4L989.2,402.6L994.2,406.3L997.9,404.5L998.5,406.4L1003.2,401.8L1006.9,392.9L1011,406.7L1015.3,408.2L1019.1,406.3L1023.8,412.3L1027.9,408.8L1032.2,410.1L1036.8,414.1L1041,403.4L1045.3,406.2L1049.9,402.9L1058,401.2L1062.1,405.2L1066.4,407.6L1070.5,404.7L1075.2,403L1079.9,405.2L1084.5,403.8L1089.2,398.6L1093,391.1L1094.6,390.9L1096.8,397.1L1101.5,393L1105.2,394.2L1109.5,400.7L1113.7,396L1118.3,400.3L1122.6,402.1L1126.8,397.8L1136.1,393.4L1139.8,393L1144.1,397.7L1152.6,392.6L1156.3,383.6L1161,392.6L1165.1,389.1L1169.4,392.8L1173.5,390.6L1181.9,389.4L1186.6,390.5L1191.3,388.4L1195.6,401.6L1199.7,397.3L1203.4,396.8L1212.4,400.1L1216.5,395L1220.6,392.5L1225.5,392.2L1229.6,388.8L1233.7,386.9L1238,387.9L1242.3,386.6L1246.8,392.4L1251.1,393.4L1259.5,394.8L1267.9,391.6L1272.1,392.9L1276.4,392.5L1280.5,394L1284.8,394.9L1289.1,394.5L1293.6,396L1297.9,394.1L1302.5,397.3L1306.6,402.4L1314.7,401.6L1319.4,404.8L1323.5,401.6L1327.8,402.4L1332.1,401.2L1337.1,397.8L1349.3,397.4L1357.7,393.7L1362.4,394.6L1369.9,394.2L1375.5,397.4L1379.2,391.8L1383.3,390.6L1387.6,393.2L1392.3,390.6L1400.7,383.5L1405,385L1409.1,382.6L1413.2,382.7L1418.1,386.4L1422.2,386.8L1426.9,386L1431,389.3L1434.9,388.9L1439,395.3L1443.7,392.1L1447.5,391.6L1452.1,392.2L1465.2,395.1L1470,393.6L1478.4,390.1L1485.9,393.9L1490.6,393.3L1495.2,399.5L1499,399.1L1503.7,401.5L1512.1,400.5L1516.8,403.8L1521.4,400.1L1528.9,399.2L1533.6,397.4L1538.3,401.1L1546.7,401.1L1555.1,405.3L1563.5,402.3L1568.2,398.5L1572.9,399.8L1576.6,399.5L1581.3,396.7L1589.3,399.6L1593.4,406.1L1601.8,405.3L1614.9,417L1623.3,420.7L1628,419L1636.4,418.6L1640.5,420L1645.8,417.6L1649.9,418.7L1654.2,421.5L1661.7,419.6L1666.4,421.2L1675.7,422.9L1679.4,421.6L1686.9,422.2L1696.3,430.4L1700.9,432.4L1705.2,435.2L1709.4,426.8L1713.7,435.1L1721.5,432.3L1726.2,437.9L1730.9,440L1739.3,446L1743,444.7L1751.4,448.4L1756.1,449.7L1765.1,444.1L1769.2,446.3L1777.6,446L1786,448.4L1790.7,449.3L1795.4,454.4L1799.5,460L1803.4,459.1L1807.8,455L1812.4,455.9L1817.1,459.9L1823.7,459.5L1828.3,463.2L1833.4,467.8L1837.7,465L1846.1,468.3L1850.2,473.9L1854.9,468.6L1863.9,468L1867.6,469.2L1872.3,472.8L1876.4,470.5L1880.7,470.2L1885,471.9L1889.1,469.5L1893.8,468.8L1898.5,465.2L1906.9,468.2L1919,465.3L1923.1,465.1L1928.4,468.7L1932.5,470.1L1936.8,477L1940.5,477.5L1944.8,484L1948.9,482.5L1953.6,484.4L1962,485.8L1970.5,485.8L1978.9,487.1L1983.5,488.4L1992,487L1995.7,487.9L2000.4,487.4L2008.8,489.8L2013.5,488.8L2020.9,490.6L2033.1,489.7L2040.6,488.1L2047.7,486.2L2051.8,487.4L2059.3,487.6L2066.8,486.7L2081.7,486.1L2086.4,483.2L2090.1,486L2098.6,485.9L2107.9,485.1L2112.2,484L2115.9,486.5L2128,488.5L2137.4,487.8L2142.1,489.3L2146.8,487L2154.2,488.2L2165.5,487.7L2172.9,490.8L2177.6,489.5L2186,494.1L2193.5,492.8L2202.9,494.2L2210.7,494.1L2214.6,486.3L2218.7,494.4L2227.2,494.3L2230.9,497.1L2236.5,503.6L2245.9,508.7L2258,511.4L2265.5,511.7L2270.5,510.4L2275.8,512.1L2287,511.1L2292.6,515.7L2301,516L2313.2,519.5L2316.5,570.7L2316.5,760ZM2316.9,760L2316.9,576.5L2317,576.9L2317.5,576.4L2345,576.7L2350,577.7L2350,760Z"/>
<path fill="#6FBAA6" d="M402.3,760L402.3,576.1L402.4,574.1L407.5,573.4L412.2,570.1L415.9,569.1L420.2,570.9L428,567.5L432.7,569L444.9,565.7L450.1,558.1L454.2,561.5L458.9,553.3L463,537.9L466.9,549.7L471.1,545L475.7,542L480.4,535.1L484.2,538.4L488.8,540.8L492.6,540.9L497.2,553.2L501.4,539.4L507.5,543.7L514.4,546.5L523.4,521.7L527.5,518.8L531.8,521.2L539.3,539.9L544,545.4L548.7,547.8L553,548.1L557.1,543.8L560,547.6L561.8,549.6L565.5,549.7L570.2,531L573.9,535.8L578,534.5L582.9,540.4L587.6,526.2L595.4,519.9L601,512.6L604.8,509.9L609.1,511.4L613.2,504.9L617.3,502.3L621.6,506.1L625.7,493.1L629.6,497.7L634.1,488.1L638.4,472.9L642.7,483.1L647.2,486.9L651.5,471.3L655.3,475.4L659.9,483.4L664.2,469.1L668.7,479.9L673,460.1L677.7,453.7L681.4,452.8L685.6,442.6L689.9,446.6L698.3,448.4L702.4,445.5L706.7,463.6L711,469.1L715.5,469.3L719.8,457.9L724.5,450.9L728.6,439L736.6,444.4L741.3,449.5L746,446.3L750.1,437.9L754,445.6L758.5,442.4L762.8,432.6L767.5,418.2L771.2,421.5L775.5,426.1L779.6,439L784.3,442.9L788.6,439.2L792.7,441.6L797.1,447.3L801.6,439.7L805.3,440.1L810.2,426.2L813.9,424.8L818,408.9L822.2,411.8L826.5,408.9L831.1,397L834.9,398.2L844.2,393.3L848.3,406.6L857.3,408.2L861.1,403.4L869.5,410.3L877.9,401.1L882.9,397.2L886.9,390.6L891,403L895.7,404.3L900,407.6L904.1,397.1L908.2,408.5L912.5,405.5L917.2,404.3L921.5,397.6L925.6,400.2L930.3,411.2L938.7,408.6L943,413.9L955.5,408.8L960.2,409L964.3,410.7L968.6,419.6L976.6,418.2L985.4,433.4L989.2,430.6L994.2,434.3L997.9,432.5L998.5,434.4L1003.2,429.8L1006.9,420.9L1011,434.7L1015.3,436.2L1019.1,434.3L1023.8,440.3L1027.9,436.8L1032.2,438.1L1036.8,442.1L1041,431.4L1045.3,434.2L1049.9,430.9L1058,429.2L1062.1,433.2L1066.4,435.6L1070.5,432.7L1075.2,431L1079.9,433.2L1084.5,431.8L1089.2,426.6L1093,419.1L1094.6,418.9L1096.8,425.1L1101.5,421L1105.2,422.2L1109.5,428.7L1113.7,424L1118.3,428.3L1122.6,430.1L1126.8,425.8L1136.1,421.4L1139.8,421L1144.1,425.7L1152.6,420.6L1156.3,411.6L1161,420.6L1165.1,417.1L1169.4,420.8L1173.5,418.6L1181.9,417.4L1186.6,418.5L1191.3,416.4L1195.6,429.6L1199.7,425.3L1203.4,424.8L1212.4,428.1L1216.5,423L1220.6,420.5L1225.5,420.2L1229.6,416.8L1233.7,414.9L1238,415.9L1242.3,414.6L1246.8,420.4L1251.1,421.4L1259.5,422.8L1267.9,419.6L1272.1,420.9L1276.4,420.5L1280.5,422L1284.8,422.9L1289.1,422.5L1293.6,424L1297.9,422.1L1302.5,425.3L1306.6,430.4L1314.7,429.6L1319.4,432.8L1323.5,429.6L1327.8,430.4L1332.1,429.2L1337.1,425.8L1349.3,425.4L1357.7,421.7L1362.4,422.6L1369.9,422.2L1375.5,425.4L1379.2,419.8L1383.3,418.6L1387.6,421.2L1392.3,418.6L1400.7,411.5L1405,413L1409.1,410.6L1413.2,410.7L1418.1,414.4L1422.2,414.8L1426.9,414L1431,417.3L1434.9,416.9L1439,423.3L1443.7,420.1L1447.5,419.6L1452.1,420.2L1465.2,423.1L1470,421.6L1478.4,418.1L1485.9,421.9L1490.6,421.3L1495.2,427.5L1499,427.1L1503.7,429.5L1512.1,428.5L1516.8,431.8L1521.4,428.1L1528.9,427.2L1533.6,425.4L1538.3,429.1L1546.7,429.1L1555.1,433.3L1563.5,430.3L1568.2,426.5L1572.9,427.8L1576.6,427.5L1581.3,424.7L1589.3,427.6L1593.4,434.1L1601.8,433.3L1614.9,445L1623.3,448.7L1628,447L1636.4,446.6L1640.5,448L1645.8,445.6L1649.9,446.7L1654.2,449.5L1661.7,447.6L1666.4,449.2L1675.7,450.9L1679.4,449.6L1686.9,450.2L1696.3,458.4L1700.9,460.3L1705.2,462.9L1709.4,454.2L1713.7,462.4L1721.5,459.1L1726.2,464.5L1730.9,466.3L1739.3,471.8L1743,470.3L1751.4,473.6L1756.1,474.6L1765.1,468.5L1769.2,470.4L1777.6,469.7L1786,471.6L1790.7,472.2L1795.4,476.6L1799.5,481.6L1803.4,480.2L1807.8,475.5L1812.4,475.6L1817.1,479L1823.7,477.6L1828.3,480.7L1833.4,484.5L1837.7,481L1846.1,483.2L1850.2,488.1L1854.9,482.6L1863.9,482L1867.6,483.2L1872.3,486.8L1876.4,484.5L1880.7,484.2L1885,485.9L1889.1,483.5L1893.8,482.8L1898.5,479.2L1906.9,482.2L1919,479.3L1922,479.3L1923.1,478.8L1928.4,481.2L1932.5,481.5L1936.8,487.4L1940.5,487L1944.8,492.5L1948.9,490.5L1953.6,491.9L1962,492.6L1970.5,491.7L1978.9,492.2L1983.5,493.4L1992,492.3L1995.7,493.3L2000.4,492.9L2008.8,495.4L2013.5,494.6L2020.9,496.6L2033.1,495.9L2040.6,494.5L2047.7,492.8L2051.8,494.1L2059.3,494.5L2066.8,493.7L2081.7,493.4L2086.4,490.7L2090.1,493.5L2098.6,493.4L2107.9,492.5L2112.2,491.4L2115.9,493.9L2128,495.9L2137.4,495.1L2142.1,496.6L2146.8,494.3L2154.2,495.5L2165.5,494.9L2172.9,498L2177.6,496.6L2186,501.2L2193.5,499.9L2202.9,501.3L2210.7,501.2L2214.6,493.3L2218.7,501.5L2227.2,501.3L2228,501.9L2230.9,503.4L2236.5,508.5L2240,509.5L2245.9,512.6L2258,515L2265.5,515.2L2270.5,513.7L2275.8,515.3L2287,514.1L2292.6,518.6L2301,518.8L2313.2,522L2315,548.8L2315,760ZM2317,760L2317,578L2395.7,577.3L2403.4,579.6L2439,578.4L2451.6,576.9L2472,576.2L2472,760Z"/>
<path fill="#6068AD" d="M183.5,760L183.5,645.5L192,577.2L360.5,577.2L366.7,575.4L400,576.1L540.6,574.3L553,570.4L565.5,566L570,555.5L587,554.2L596.5,550.5L608,548L612,533.5L616.7,527.2L621.4,524.2L626,514.6L641.5,511.6L647,519.6L663,500.6L668,502.6L699,500.7L703.7,490.7L714.5,490.1L730,486.1L780,482.8L829,484.9L854,482.9L857,479.9L901,479L904.6,474L940,474.6L985,471.5L991.2,474.9L1008,474L1030,471.7L1095,469.8L1176,468.5L1207,470.4L1356,470.6L1375,467.5L1396.5,466.5L1412,462.8L1424.5,463.7L1430.7,466.5L1438.4,467.3L1444.7,467.5L1545.6,468.1L1558,469L1592,467.1L1607.7,467.5L1618.6,471.4L1691.6,472L1700,474.5L1718.6,477.6L1731,481.3L1752.8,482.9L1788.5,483.2L1799.4,490L1846,489.7L1851.6,493.8L1886,494.4L1931.4,493.8L1937.6,500.6L1943.8,501.5L1945.3,506.8L1967,507L1979.5,510.1L2001,511.7L2103.7,513.8L2141,513.8L2184.5,512.9L2190.7,511.4L2228,511L2237.3,516.9L2246.6,521L2265,521.6L2271.4,524.1L2305.6,523.4L2313.4,525.5L2317.5,585.2L2395.7,585.2L2403.4,587.7L2439,587.7L2451.6,586.7L2472,586.7L2472,760Z"/>
<path fill="#EAB83E" d="M168,760L168,760L176.6,645.5L360.5,645.5L366.7,643.4L540.6,640.9L553,637L565.5,632.5L570,622L587,620.7L596.5,617L608,614.5L612,600L616.7,593.7L621.4,590.6L626,581L641.5,578L647,586L663,567L668,569L699,567L703.7,557L714.5,556.4L730,552.4L780,549L829,551L854,549L857,546L901,545L904.6,540L940,541L985,538.4L991.2,541.8L1008,541L1030,538.7L1095,536.8L1176,535.6L1207,537.5L1356,537.8L1375,534.7L1396.5,533.7L1412,530L1424.5,530.9L1430.7,533.7L1438.4,538.7L1444.7,534.7L1545.6,535.3L1558,536.2L1592,534.3L1607.7,534.7L1618.6,538.7L1691.6,539.3L1700,541.8L1718.6,544.9L1731,548.6L1752.8,550.2L1788.5,550.5L1799.4,557.3L1846,557L1851.6,561.1L1886,561.7L1931.4,561.1L1937.6,567.9L1943.8,568.8L1945.3,574.1L1967,574.4L1979.5,577.5L2001,579.1L2103.7,581.2L2141,581.2L2184.5,580.3L2190.7,578.8L2228,578.4L2237.3,584.3L2246.6,588.4L2265,589L2271.4,591.5L2305.6,590.9L2313.4,593L2317.5,652.7L2395.7,652.7L2403.4,655.2L2439,655.2L2451.6,654.2L2472,654.2L2472,760Z"/>
<path fill="#C266B2" d="M355,760L355,679.1L362,677.3L540,676.7L543.7,675.8L556,671.3L564,667.5L570,655.3L587,654.3L596.5,650.3L608,649.6L608.7,649.2L612.4,632.9L616.7,625.6L621.4,623.2L626,614.7L641.5,611L647,618.7L663,600.6L668,602.1L699,600.6L703.7,590.7L714.5,589.1L730,585.6L780,582.5L829,584.3L854,582.3L857,579.2L901,578.6L904.6,573.8L940,574.1L985,572.3L991.2,576L1008,574.7L1030,572.3L1176,570.1L1207,571.7L1356,571.4L1375,568.6L1396.5,567.6L1412,563.6L1424.5,564.5L1430.7,567.6L1438.4,569.2L1444.7,567.7L1545.6,569.2L1558,570.1L1592,568.2L1607.7,568.6L1618.6,572.9L1691.6,573.8L1700,575.4L1718.6,578.5L1731,582.2L1752.8,584.1L1787,584.1L1799.4,590.9L1846,590.9L1851.6,595L1886,595.9L1940.7,595.3L1945.3,600.9L1967,601.8L1979.5,604.9L2001,607.1L2103.7,608.9L2141,608.9L2184.5,608L2190.7,606.4L2228,606.4L2237.3,612L2246.6,616.4L2265,616.7L2271.4,618.9L2305.6,617.9L2313.4,619.8L2317.5,679.8L2318,680L2398.8,681L2405,681.9L2439,681.9L2451.6,681L2472,681L2472,760Z"/>
<path fill="#909090" d="M608,760L608,653.4L608.7,653L612.4,636.7L616.7,629.4L621.4,627L626,618.5L641.5,614.8L647,622.5L663,604.5L668,606L699,604.5L703.7,594.6L714.5,593L730,589.6L780,586.5L829,588.4L854,586.5L857,583.4L901,582.8L904.6,578L940,578.4L985,576.6L991.2,580.3L1008,579L1030,576.6L1176,574.4L1207,576L1356,575.7L1375,572.9L1396.5,571.9L1412,567.9L1424.5,568.8L1430.7,571.9L1438.4,573.5L1444.7,572L1545.6,573.5L1558,574.4L1592,572.5L1607.7,572.9L1618.6,577.2L1691.6,578.1L1700,579.7L1718.6,582.8L1731,586.5L1752.8,588.4L1787,588.4L1799.4,595.2L1846,595.2L1851.6,599.3L1886,600.2L1940.7,599.6L1945.3,605.2L1967,606.1L1979.5,609.2L2001,611.4L2103.7,613.2L2141,613.2L2184.5,612.3L2190.7,610.7L2228,610.7L2237.3,616.3L2246.6,620.7L2265,621L2271.4,623.2L2305.6,622.2L2313.4,624.1L2317.5,684L2317.5,760Z"/>
<path fill="#E3694A" d="M540,760L540,679.2L543.7,678.4L556,674.4L564,671L570,659L587,658L596.5,654L621.4,652.7L626,641.8L641.5,638.7L647,645.5L652.8,642.4L699,641L717.6,638.7L736,635.6L780,632.5L829,635L854,631.9L857,629.4L940,630.5L985,628.8L991.2,632.5L1008,632L1030,629.4L1095,628.1L1176,627.2L1207,628.4L1356,628.1L1375,626.9L1396.5,626.3L1412,624.1L1420,626.9L1424.5,626.9L1430.7,630L1545.6,631.2L1558,632.5L1592,630.9L1607.7,631.6L1618.6,635.6L1691.6,636.5L1700,638.7L1718.6,641.8L1731,644.9L1752.8,646.8L1791.6,647.4L1799.4,653.6L1846,653.6L1851.6,657.3L1886,658.3L1940.7,658L1945.3,663.5L1967,664.5L1979.5,667.3L2001,669.8L2103.7,671.3L2141,671.6L2184.5,670.4L2190.7,668.8L2228,668.5L2237.3,674.4L2246.6,679.1L2265,679.7L2271.4,681.6L2305.6,680.6L2315,682.8L2318,684.3L2398.8,685.3L2405,686.2L2439,686.2L2451.6,685.3L2472,685.3L2472,760Z"/>
<path fill="#575697" d="M168,760L168,760L176.6,679L1204,679.7L1207,680.9L1426,680.9L1430.7,684L1545.6,684L1551.8,685.3L1610.8,685.3L1617,688.4L1691.6,688.4L1700,690.6L1718.6,693L1752.8,695.5L1791.6,696.1L1799.4,701.4L1846,701.7L1851.6,706.4L1940.7,707L1945.3,710.7L2228,710.7L2237.3,716.3L2249.7,722.5L2305.6,723.2L2316.5,725L2472,725L2472,760Z"/>
</g>
<g id="ov" fill="#fff">
<polygon points="244.6,531.4 244.6,577.6 249.2,577.6"/>
<polygon points="270.2,577.6 274.3,577.6 274.3,564"/>
<polygon points="308.7,551.4 312.4,551.4 312.4,516.5"/>
<polygon points="400.3,574.8 402.8,574.8 402.5,518"/>
<polygon points="608.5,653.2 612.4,653.2 612.4,638"/>
<polygon points="1092.9,306.5 1096.6,306.5 1096.4,260"/>
<polygon points="1854.8,337.2 1860,332.6 1855.6,332.4"/>
<polygon points="2313.9,626 2316.7,683.8 2315,683.8"/>
</g>
<g id="vl" stroke-width="1" fill="none" stroke-opacity="0.38">
<path d="M197,452L191.5,760" stroke="#BB478B"/>
<path d="M197,467L195.3,760" stroke="#DD6E60"/>
<path d="M245.1,577V760" stroke="#3E786E"/>
<path d="M273.9,577V760" stroke="#3E786E"/>
<path d="M312,551V760" stroke="#D98A35"/>
<path d="M401.8,517V760" stroke="#A3C95A"/>
<path d="M612.4,653V760" stroke="#909090"/>
<path d="M998.3,240V760" stroke="#A5A99B"/>
<path d="M1096.6,306V760" stroke="#4B89C1"/>
<path d="M2316.8,684V760" stroke="#909090"/>
</g>
<g id="wm">
<clipPath id="wmc"><circle cx="1258.5" cy="451" r="68.3"/></clipPath>
<g clip-path="url(#wmc)">
<polygon points="1180,496.2 1345,443 1345,370 1180,370" fill="#f4603e" fill-opacity="0.2"/>
<polygon points="1180,496.2 1345,443 1345,540 1180,540" fill="#1e1870" fill-opacity="0.17"/>
</g>
<text x="1362" y="484" font-family="Liberation Sans, sans-serif" font-weight="bold" font-size="93" textLength="219" lengthAdjust="spacingAndGlyphs" fill="#202040" fill-opacity="0.16">Dune</text>
</g>
<rect x="146" y="759.4" width="2326" height="1.4" fill="#111"/>
<text x="130" y="213.8" text-anchor="end" class="ax">40t</text>
<text x="130" y="489.5" text-anchor="end" class="ax">20t</text>
<text x="130" y="765" text-anchor="end" class="ax">0</text>
<text x="189.0" y="795" text-anchor="middle" class="ax">Apr 15th</text>
<text x="394.6" y="795" text-anchor="middle" class="ax">Apr 17th</text>
<text x="600.2" y="795" text-anchor="middle" class="ax">Apr 19th</text>
<text x="805.8" y="795" text-anchor="middle" class="ax">Apr 21st</text>
<text x="1011.4" y="795" text-anchor="middle" class="ax">Apr 23rd</text>
<text x="1217.0" y="795" text-anchor="middle" class="ax">Apr 25th</text>
<text x="1422.6" y="795" text-anchor="middle" class="ax">Apr 27th</text>
<text x="1628.2" y="795" text-anchor="middle" class="ax">Apr 29th</text>
<text x="1833.8" y="795" text-anchor="middle" class="ax">May 1st</text>
<text x="2039.4" y="795" text-anchor="middle" class="ax">May 3rd</text>
<text x="2245.0" y="795" text-anchor="middle" class="ax">May 5th</text>
<text x="2450.6" y="795" text-anchor="middle" class="ax">May 7th</text>
<text x="2705" y="168.0" text-anchor="end" class="lg">Top.1</text><circle cx="2723" cy="159" r="9" fill="#575697"/>
<text x="2705" y="207.0" text-anchor="end" class="lg">Top.6</text><circle cx="2723" cy="198" r="9" fill="#E3694A"/>
<text x="2705" y="246.0" text-anchor="end" class="lg">Top.5</text><circle cx="2723" cy="237" r="9" fill="#909090"/>
<text x="2705" y="285.0" text-anchor="end" class="lg">Top.14</text><circle cx="2723" cy="276" r="9" fill="#C266B2"/>
<text x="2705" y="324.0" text-anchor="end" class="lg">Top.8</text><circle cx="2723" cy="315" r="9" fill="#EAB83E"/>
<text x="2705" y="363.0" text-anchor="end" class="lg">Top.2</text><circle cx="2723" cy="354" r="9" fill="#6068AD"/>
<text x="2705" y="402.0" text-anchor="end" class="lg">Top.11</text><circle cx="2723" cy="393" r="9" fill="#6FBAA6"/>
<text x="2705" y="441.0" text-anchor="end" class="lg">Top.7</text><circle cx="2723" cy="432" r="9" fill="#A3C95A"/>
<text x="2705" y="480.0" text-anchor="end" class="lg">Top.15</text><circle cx="2723" cy="471" r="9" fill="#3E786E"/>
<text x="2705" y="519.0" text-anchor="end" class="lg">Top.3</text><circle cx="2723" cy="510" r="9" fill="#D98A35"/>
<text x="2705" y="558.0" text-anchor="end" class="lg">Top.4</text><circle cx="2723" cy="549" r="9" fill="#4B89C1"/>
<text x="2705" y="597.0" text-anchor="end" class="lg">Top.12</text><circle cx="2723" cy="588" r="9" fill="#70509A"/>
<text x="2705" y="636.0" text-anchor="end" class="lg">Top.9</text><circle cx="2723" cy="627" r="9" fill="#DD6E60"/>
<text x="2705" y="675.0" text-anchor="end" class="lg">Top.10</text><circle cx="2723" cy="666" r="9" fill="#BB478B"/>
<text x="2705" y="714.0" text-anchor="end" class="lg">Top.13</text><circle cx="2723" cy="705" r="9" fill="#A5A99B"/>

<g fill="none" stroke="#0a0a0a" stroke-width="2" stroke-linecap="round" stroke-linejoin="round">
<circle cx="2740" cy="830" r="17"/>
<path d="M2732.7,829.5 L2739.1,835.3 L2747.6,824.6" stroke-width="3.3"/>
</g>
</svg>
<div id="title">$PEPE Top15 High-Yield Addresses Holding Trending</div>
<svg id="avatar" viewBox="0 0 40 40">
<defs><clipPath id="avc"><circle cx="20" cy="20" r="20"/></clipPath>
<filter id="avb" x="-10%" y="-10%" width="120%" height="120%"><feGaussianBlur stdDeviation="0.45"/></filter></defs>
<g clip-path="url(#avc)"><g filter="url(#avb)">
<rect x="-2" y="-2" width="44" height="44" fill="#1e2c60"/>
<rect x="-2" y="-2" width="14" height="26" fill="#141d40"/>
<path d="M3.1,9.4 L10.6,4.4 M3.7,10 L9.4,11.2 M6,6 L9,3" stroke="#b8456a" stroke-width="1" fill="none"/>
<path d="M0.6,15.3 L9.4,14.4" stroke="#9ec43a" stroke-width="0.8" fill="none"/>
<path d="M15,0 L15.3,5" stroke="#c8c8d8" stroke-width="0.5" fill="none"/>
<path d="M-1,23.1 L6,22.3 L5,36 L-1,36Z" fill="#f3dadb"/>
<path d="M32.5,21.2 L38.8,15.6 M33,25 L39,22" stroke="#a04070" stroke-width="0.8" fill="none"/>
<path d="M32,31.5 L41,27 L41,41 L28,41Z" fill="#e9e2ea"/>
<path d="M10.6,13.1 C7,17 5,21 5,25 C4,28 4,31 4.4,32.5 C5,36 6.5,38 8.1,41 L30,41 C32,37 33.5,35 33.8,33.8 C32,32 31,31 31.2,30 C32,27 32.4,25 32.5,22.5 C33,20 33.2,18 33.1,15.6 L30,12 L12,12Z" fill="#4b8b3d"/>
<path d="M10.9,10.6 C11,7 12.5,5 13.8,4.4 C16,3.2 19,3 21.2,3.1 C24,3.2 27,3.8 28.8,5 C30,6.5 30.4,8.5 30.3,10.6 L35,14.4 L34.4,15.7 C32.5,14.6 31,14 30,13.8 C26,13 23,13 20,13.1 C16,13.2 13.5,13.3 11.2,13.8Z" fill="#bd3a36"/>
<rect x="15.6" y="7.9" width="11.9" height="2" rx="1" fill="#efb0ac" fill-opacity="0.75"/>
<path d="M15,16.9 C18,15.9 22,15.9 25,16.7 M25.9,16.9 C28,16.2 30,16.3 31.9,16.9" stroke="#2b5a2b" stroke-width="0.9" fill="none"/>
<ellipse cx="20.3" cy="18.7" rx="4.2" ry="1.7" fill="#f2f2ea"/>
<ellipse cx="19" cy="18.8" rx="1.7" ry="1.5" fill="#151515"/>
<ellipse cx="28.8" cy="18.8" rx="2.6" ry="1.6" fill="#f2f2ea"/>
<ellipse cx="27.6" cy="18.8" rx="1.4" ry="1.4" fill="#151515"/>
<path d="M12.8,23.6 C17,26.6 24,27.2 31,25 C28.5,30.5 17,31.5 12.8,23.6Z" fill="#9c3f2a"/>
<path d="M24.4,32.5 L28.8,35.6 M29,32 L31.5,34.5" stroke="#2f6a2f" stroke-width="0.8" fill="none"/>
<circle cx="26.3" cy="33.1" r="1.8" stroke="#2f6a2f" stroke-width="0.7" fill="#6a9a5a"/>
</g></g>
</svg>
<div id="owner">@pepechart</div>
</body>
</html>
